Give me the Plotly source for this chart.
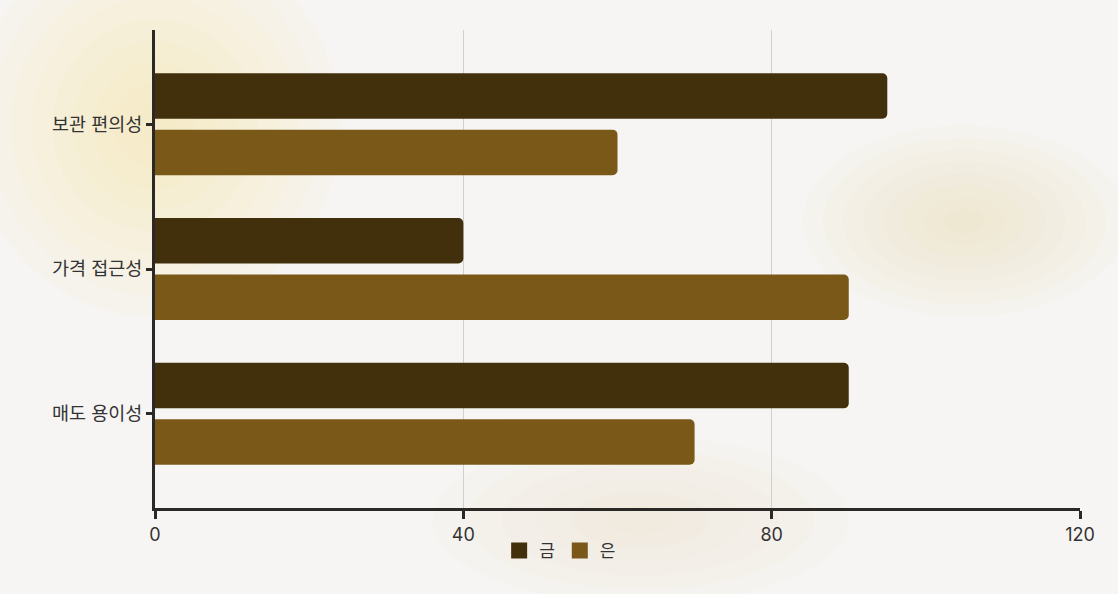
import plotly.graph_objects as go

categories = ["보관 편의성", "가격 접근성", "매도 용이성"]
gold_values = [95, 40, 90]
silver_values = [60, 90, 70]
series_names = ["금", "은"]
x_ticks = [0, 40, 80, 120]

GOLD = "#42300c"
SILVER = "#7a5817"
AXIS = "#2b2826"
FONT = "Inter, Noto Sans CJK KR, sans-serif"

fig = go.Figure()
fig.add_trace(go.Bar(y=categories, x=gold_values, name=series_names[0], orientation="h",
                     marker=dict(color=GOLD, line=dict(width=0)), showlegend=False))
fig.add_trace(go.Bar(y=categories, x=silver_values, name=series_names[1], orientation="h",
                     marker=dict(color=SILVER, line=dict(width=0)), showlegend=False))
# legend entries with larger square swatches
for name, col in zip(series_names, [GOLD, SILVER]):
    fig.add_trace(go.Scatter(x=[None], y=[None], mode="markers", name=name,
                             marker=dict(symbol="square", size=18, color=col,
                                         line=dict(width=0)),
                             hoverinfo="skip"))

# soft warm background blobs (approximating a blurred photo backdrop)
blobs = [
    (-0.20, 0.40, 0.20, 1.20, "rgba(250,228,165,0.08)", 9),
    (0.70, 0.40, 1.05, 0.80, "rgba(240,208,165,0.05)", 8),
    (0.30, -0.20, 0.75, 0.15, "rgba(240,218,185,0.05)", 6),
]
shapes = []
for x0, y0, x1, y1, col, n in blobs:
    cx, cy = (x0 + x1) / 2, (y0 + y1) / 2
    hw, hh = (x1 - x0) / 2, (y1 - y0) / 2
    for i in range(n):
        f = 1 - i / n
        shapes.append(dict(type="circle", xref="paper", yref="paper", layer="below",
                           x0=cx - hw * f, x1=cx + hw * f, y0=cy - hh * f, y1=cy + hh * f,
                           fillcolor=col, line=dict(width=0)))

fig.update_layout(
    width=1118, height=594,
    margin=dict(l=155, r=38, t=30, b=86),
    paper_bgcolor="#f6f5f3",
    plot_bgcolor="rgba(0,0,0,0)",
    barmode="group",
    bargap=0.22,
    bargroupgap=0.195,
    barcornerradius=5,
    font=dict(family=FONT, size=17, color="#333333"),
    showlegend=True,
    legend=dict(orientation="h", x=0.438, xanchor="center", y=-0.09, yanchor="middle",
                font=dict(family=FONT, size=17, color="#333333"),
                itemwidth=30, traceorder="normal", bgcolor="rgba(0,0,0,0)"),
    shapes=shapes,
    xaxis=dict(range=[0, 120], tickvals=x_ticks, ticktext=[str(v) for v in x_ticks],
               showgrid=True, gridcolor="#d0d0d0", gridwidth=1, zeroline=False,
               showline=True, linecolor=AXIS, linewidth=3,
               ticks="outside", ticklen=8, tickwidth=3, tickcolor=AXIS,
               tickfont=dict(family=FONT, size=18, color="#333333"), fixedrange=True),
    yaxis=dict(categoryorder="array", categoryarray=categories, autorange=False,
               range=[2.65, -0.65], showgrid=False, zeroline=False,
               showline=True, linecolor=AXIS, linewidth=3,
               ticks="outside", ticklen=6, tickwidth=3, tickcolor=AXIS,
               tickfont=dict(family=FONT, size=18.5, color="#333333"), fixedrange=True),
)

fig.write_html("out.html", config={"displayModeBar": False},
               post_script="document.body.style.margin='0';document.body.style.overflow='hidden';")
